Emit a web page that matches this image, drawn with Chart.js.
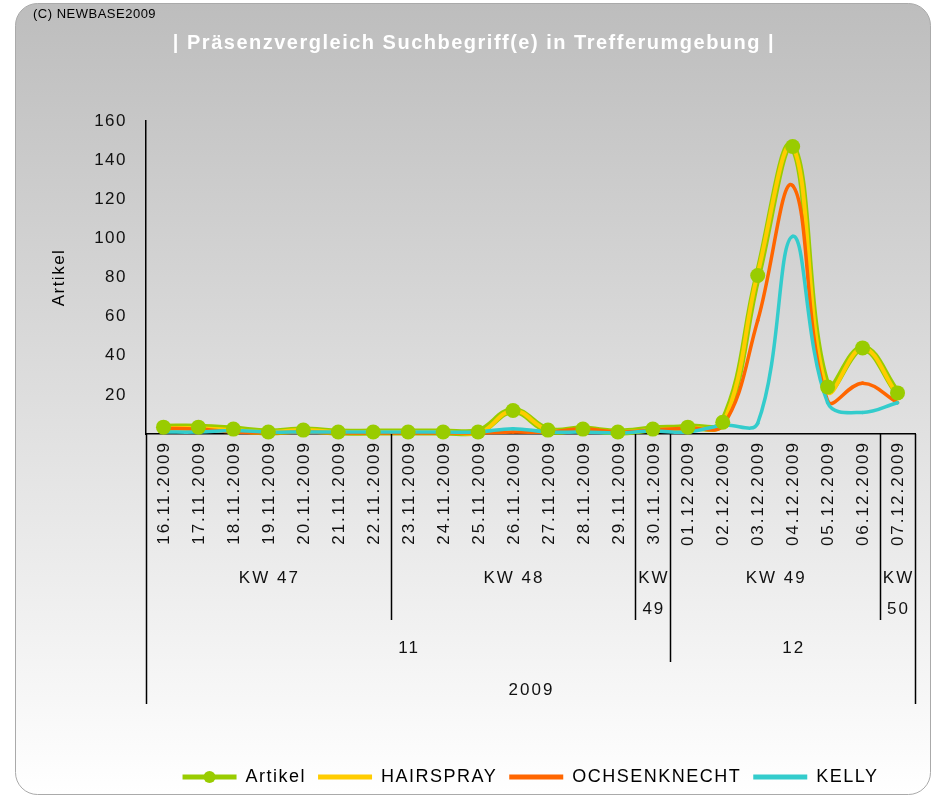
<!DOCTYPE html>
<html>
<head>
<meta charset="utf-8">
<script src="https://cdn.jsdelivr.net/npm/chart.js@4.4.1/dist/chart.umd.min.js"></script>
<style>
  html, body { margin: 0; padding: 0; background: #fff; }
  canvas { display: block; }
</style>
</head>
<body>
<canvas id="graph_presence" width="935" height="796"></canvas>
<script>
var dates = ['16.11.2009', '17.11.2009', '18.11.2009', '19.11.2009', '20.11.2009', '21.11.2009', '22.11.2009',
             '23.11.2009', '24.11.2009', '25.11.2009', '26.11.2009', '27.11.2009', '28.11.2009', '29.11.2009',
             '30.11.2009', '01.12.2009', '02.12.2009', '03.12.2009', '04.12.2009', '05.12.2009', '06.12.2009', '07.12.2009'];
var weekLabels = ['KW 47', 'KW 48', 'KW 49', 'KW 49', 'KW 50'];
var weekSizes = [7, 7, 1, 6, 1];
var monthLabels = ['11', '12'];
var monthSizes = [15, 7];
var yearLabels = ['2009'];
var yearSizes = [22];
var yTicks = [20, 40, 60, 80, 100, 120, 140, 160];

var artikel      = [3.5, 3.5, 2.5, 1, 2, 1, 1, 1, 1, 1, 12, 2, 2.5, 1, 2.5, 3.5, 6, 81, 147, 24, 44, 21];
var hairspray    = [3, 3, 2, 1, 2, 1, 1, 1, 1, 0, 12, 2, 2, 1, 2, 3, 5, 82, 147, 22, 44, 20];
var ochsenknecht = [3, 2.5, 1, 0.5, 1, 0.5, 0.5, 0.5, 0.5, 0.5, 1, 1, 2.5, 1, 2, 3, 4, 58, 127, 17, 26, 16];
var kelly        = [1, 1, 1.8, 1, 1, 1, 1, 1, 1, 1, 2.7, 1, 1, 0.5, 1.5, 1, 4.5, 5.5, 101, 16, 11, 16];

var FONT = "'Liberation Sans', Arial, sans-serif";

// Hintergrund mit Verlauf + Copyright
var background = {
    id: 'background',
    beforeUpdate: function (chart) {
        chart.ctx.letterSpacing = '1.5px';
    },
    beforeDraw: function (chart) {
        var c = chart.ctx;
        c.letterSpacing = '1.5px';
        c.save();
        c.fillStyle = '#ffffff';
        c.fillRect(0, 0, chart.width, chart.height);
        var g = c.createLinearGradient(0, 3, 0, 795);
        g.addColorStop(0, '#bdbdbd');
        g.addColorStop(1, '#ffffff');
        c.beginPath();
        c.roundRect(15.5, 3.5, 915, 791, 22);
        c.fillStyle = g;
        c.fill();
        c.strokeStyle = '#aaaaaa';
        c.lineWidth = 1;
        c.stroke();
        c.letterSpacing = '0.5px';
        c.font = '13px ' + FONT;
        c.fillStyle = '#000';
        c.textAlign = 'left';
        c.textBaseline = 'middle';
        c.fillText('(C) NEWBASE2009', 33, 14);
        c.restore();
    }
};

// mehrstufige Kategorieachse (Datum / KW / Monat / Jahr)
var groupAxis = {
    id: 'groupAxis',
    afterDraw: function (chart) {
        var c = chart.ctx, xs = chart.scales.x, a = chart.chartArea;
        var step = xs.getPixelForValue(1) - xs.getPixelForValue(0);
        function edge(i) { return xs.getPixelForValue(i) - step / 2; }

        c.save();
        c.fillStyle = '#111';
        c.font = '17px ' + FONT;
        c.letterSpacing = '2px';
        c.textAlign = 'right';
        c.textBaseline = 'middle';
        dates.forEach(function (d, i) {
            c.save();
            c.translate(xs.getPixelForValue(i) + 1, a.bottom + 7);
            c.rotate(-Math.PI / 2);
            c.fillText(d, 0, 0);
            c.restore();
        });

        var rows = [
            {labels: weekLabels, sizes: weekSizes, bottom: 186, text: 144},
            {labels: monthLabels, sizes: monthSizes, bottom: 228, text: 214},
            {labels: yearLabels, sizes: yearSizes, bottom: 270, text: 256}
        ];
        var depth = {};
        depth[0] = rows.length - 1;
        depth[dates.length] = rows.length - 1;
        rows.forEach(function (r, k) {
            var pos = 0;
            r.sizes.forEach(function (s) {
                pos += s;
                depth[pos] = Math.max(depth[pos] || 0, k);
            });
        });

        c.strokeStyle = '#000';
        c.lineWidth = 1.5;
        Object.keys(depth).forEach(function (b) {
            var x = Math.round(edge(+b)) + 0.5;
            c.beginPath();
            c.moveTo(x, a.bottom);
            c.lineTo(x, a.bottom + rows[depth[b]].bottom);
            c.stroke();
        });

        c.textAlign = 'center';
        rows.forEach(function (r) {
            var pos = 0;
            r.labels.forEach(function (lab, j) {
                var x0 = edge(pos), x1 = edge(pos + r.sizes[j]);
                pos += r.sizes[j];
                var lines = c.measureText(lab).width > x1 - x0 - 4 ? lab.split(' ') : [lab];
                lines.forEach(function (t, l) {
                    c.fillText(t, (x0 + x1) / 2 + 1, a.bottom + r.text + l * 31);
                });
            });
        });

        // Markierung im Legendensymbol "Artikel"
        var hb = chart.legend.legendHitBoxes[0];
        if (hb) {
            c.beginPath();
            c.arc(hb.left + 27, hb.top + hb.height / 2, 6, 0, Math.PI * 2);
            c.fillStyle = '#99cc00';
            c.fill();
        }
        c.restore();
    }
};

var ctx = document.getElementById('graph_presence');

var chart_presence = new Chart(ctx, {
    type: 'line',
    data: {
        labels: dates,
        datasets: [{
            label: 'Artikel',
            data: artikel,
            borderColor: '#99cc00',
            backgroundColor: '#99cc00',
            borderWidth: 7,
            pointRadius: 0,
            order: 5
        }, {
            label: 'HAIRSPRAY',
            data: hairspray,
            borderColor: '#ffcc00',
            backgroundColor: '#ffcc00',
            borderWidth: 4,
            pointRadius: 2,
            pointBorderWidth: 0,
            order: 4
        }, {
            label: 'OCHSENKNECHT',
            data: ochsenknecht,
            borderColor: '#ff6600',
            backgroundColor: '#ff6600',
            borderWidth: 3.5,
            pointRadius: 1.8,
            pointBorderWidth: 0,
            order: 3
        }, {
            label: 'KELLY',
            data: kelly,
            borderColor: '#33cccc',
            backgroundColor: '#33cccc',
            borderWidth: 3.5,
            pointRadius: 1.8,
            pointBorderWidth: 0,
            order: 2
        }, {
            // Markierungen "Artikel" liegen über allen Linien (wie in Excel)
            label: '',
            data: artikel,
            showLine: false,
            borderColor: '#99cc00',
            backgroundColor: '#99cc00',
            pointRadius: 7.5,
            pointBorderWidth: 0,
            order: 1
        }]
    },
    plugins: [background, groupAxis],
    options: {
        responsive: false,
        animation: false,
        clip: false,
        elements: { line: { tension: 0.4 } },
        layout: {
            padding: { left: 33, right: 20, top: 0, bottom: 0 }
        },
        scales: {
            x: {
                offset: true,
                afterFit: function (s) { s.height = 322; },
                grid: { display: false, drawTicks: false },
                border: { display: true, color: '#000', width: 1.5 },
                ticks: { display: false }
            },
            y: {
                min: 0,
                max: 160,
                afterFit: function (s) { s.width = 113; },
                afterBuildTicks: function (s) { s.ticks = yTicks.map(function (v) { return {value: v}; }); },
                grid: { display: false, drawTicks: false },
                border: { display: true, color: '#000', width: 1.5 },
                ticks: { padding: 19, color: '#111', font: { size: 17, family: FONT } },
                title: {
                    display: true,
                    text: 'Artikel',
                    color: '#000',
                    font: { size: 17, family: FONT },
                    padding: { top: 16, bottom: 0 }
                }
            }
        },
        plugins: {
            title: {
                display: true,
                text: '| Präsenzvergleich Suchbegriff(e) in Trefferumgebung |',
                color: '#ffffff',
                font: { size: 20, weight: 'bold', family: FONT },
                padding: { top: 31, bottom: 66 }
            },
            legend: {
                position: 'bottom',
                fullSize: false,
                labels: {
                    boxWidth: 54,
                    boxHeight: 5,
                    padding: 12,
                    color: '#111',
                    font: { size: 18, family: FONT },
                    generateLabels: function (chart) {
                        return chart.data.datasets.map(function (ds, i) {
                            return { text: ds.label, fillStyle: ds.borderColor, strokeStyle: ds.borderColor,
                                     lineWidth: 0, hidden: false, datasetIndex: i };
                        }).filter(function (item) { return item.text !== ''; });
                    }
                }
            },
            tooltip: { enabled: false }
        }
    }
});
</script>
</body>
</html>
